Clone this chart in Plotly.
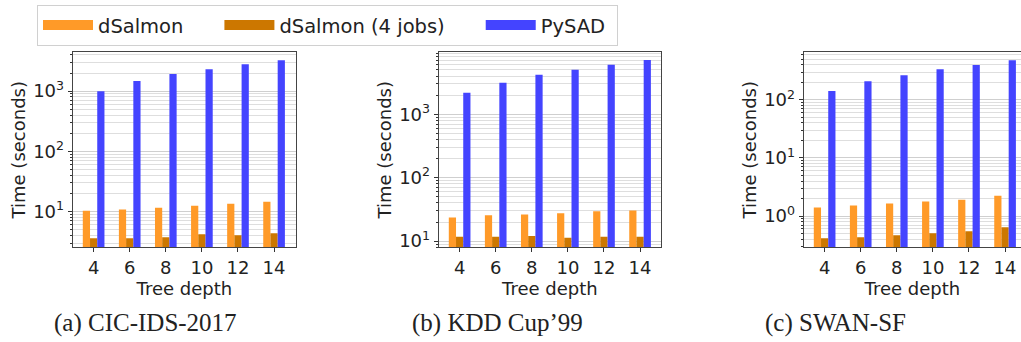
import plotly.graph_objects as go

depths = [4, 6, 8, 10, 12, 14]
series_names = ["dSalmon", "dSalmon (4 jobs)", "PySAD"]

cic_dsalmon = [10.3, 10.8, 11.6, 12.5, 13.5, 14.6]
cic_dsalmon4 = [3.6, 3.6, 3.75, 4.2, 4.05, 4.35]
cic_pysad = [1000, 1475, 1920, 2320, 2800, 3260]

kdd_dsalmon = [23.6, 25.7, 26.3, 27.6, 29.6, 30.4]
kdd_dsalmon4 = [11.7, 11.7, 12.1, 11.3, 11.7, 11.7]
kdd_pysad = [2170, 3140, 4190, 5000, 5990, 7160]

swan_dsalmon = [1.40, 1.52, 1.64, 1.78, 1.92, 2.24]
swan_dsalmon4 = [0.417, 0.434, 0.469, 0.507, 0.549, 0.642]
swan_pysad = [142, 210, 266, 337, 399, 478]

ytick_vals = [1, 10, 100, 1000]
ytick_text = ["10<sup>0</sup>", "10<sup>1</sup>", "10<sup>2</sup>", "10<sup>3</sup>"]

captions = ["(a) CIC-IDS-2017", "(b) KDD Cup\u201999", "(c) SWAN-SF"]

colors = ["#FF9A28", "#CC7700", "#4444FF"]
offsets = [-0.6, -0.2, 0.2]
W, H = 1021, 342

panels = [
    ([cic_dsalmon, cic_dsalmon4, cic_pysad], (72.7, 296.0), (0.405, 3.649)),
    ([kdd_dsalmon, kdd_dsalmon4, kdd_pysad], (438.7, 661.0), (0.902, 3.979)),
    ([swan_dsalmon, swan_dsalmon4, swan_pysad], (803.7, 1021.0), (-0.538, 2.822)),
]
xr_per_px = (15.16 - 2.84) / 222.3

fig = go.Figure()
ytop, ybot = 52.7, 250.3
font = "DejaVu Sans"
for i, (vals, (xl, xrp), yr) in enumerate(panels):
    n = i + 1
    xa = "x" if n == 1 else f"x{n}"
    ya = "y" if n == 1 else f"y{n}"
    for j, v in enumerate(vals):
        fig.add_trace(go.Bar(x=depths, y=v, width=0.4, offset=offsets[j],
                             marker=dict(color=colors[j], line=dict(width=0)),
                             xaxis=xa, yaxis=ya, showlegend=False, name=series_names[j]))
    xmax = 2.84 + (xrp - xl) * xr_per_px
    axx = dict(domain=[xl / W, xrp / W], range=[2.84, xmax], anchor=ya,
               tickvals=depths, ticks="outside", ticklen=4, tickcolor="#333",
               showline=True, linecolor="#444", linewidth=1, mirror=True,
               showgrid=False, zeroline=False,
               tickfont=dict(family=font, size=18, color="#222"),
               title=dict(text="Tree depth", font=dict(family=font, size=18, color="#222"), standoff=4))
    axy = dict(domain=[1 - ybot / H, 1 - ytop / H], type="log", range=list(yr), anchor=xa,
               tickvals=ytick_vals, ticktext=ytick_text, ticks="outside", ticklen=4, tickcolor="#333",
               showline=True, linecolor="#444", linewidth=1, mirror=(n != 3),
               showgrid=True, gridcolor="#cfcfcf", gridwidth=1, zeroline=False,
               minor=dict(showgrid=True, gridcolor="#dedede", gridwidth=1, ticks="outside",
                          ticklen=2, tickcolor="#333", dtick="D1"),
               tickfont=dict(family=font, size=18, color="#222"),
               title=dict(text="Time (seconds)", font=dict(family=font, size=18, color="#222"), standoff=2))
    fig.layout["xaxis" if n == 1 else f"xaxis{n}"] = axx
    fig.layout["yaxis" if n == 1 else f"yaxis{n}"] = axy
    fig.add_annotation(text=captions[i], xref="paper", yref="paper",
                       x=[145, 497, 835][i] / W, y=1 - 327 / H, showarrow=False,
                       xanchor="center", yanchor="middle",
                       font=dict(family="Liberation Serif", size=25, color="#222"))

pad = "\u00a0" * 5
for j in range(3):
    label = series_names[j] + (pad if j < 2 else "\u00a0")
    fig.add_trace(go.Scatter(x=[None], y=[None], mode="lines", name=label,
                             line=dict(color=colors[j], width=14), showlegend=True))

fig.update_layout(
    width=W, height=H, margin=dict(l=0, r=0, t=0, b=0),
    paper_bgcolor="white", plot_bgcolor="white", barmode="overlay",
    legend=dict(orientation="h", x=37 / W, y=1 - 5 / H, xanchor="left", yanchor="top",
                bordercolor="#d0d0d0", borderwidth=1, bgcolor="white",
                font=dict(family=font, size=19.5, color="#222"),
                itemwidth=50, tracegroupgap=0),
)
fig.write_html("out.html")
